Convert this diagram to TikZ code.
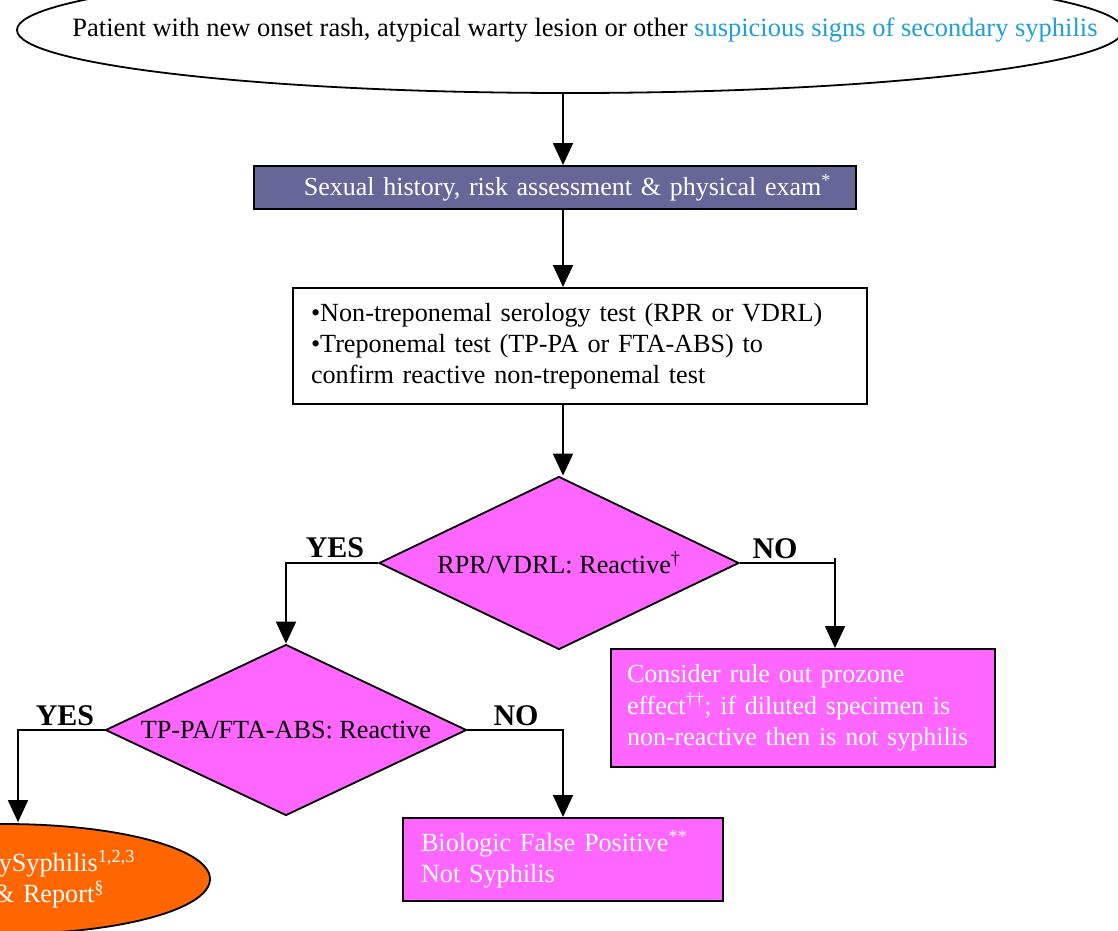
\documentclass[tikz,border=0pt]{standalone}
\usepackage{fontspec}
\setmainfont{Liberation Serif}
\usetikzlibrary{shapes.geometric,arrows.meta}
\definecolor{slate}{HTML}{666699}
\definecolor{pinkfill}{HTML}{FF66FF}
\definecolor{orangefill}{HTML}{FF6600}
\definecolor{linkblue}{RGB}{30,160,210}
\begin{document}
\begin{tikzpicture}[x=1pt,y=-1pt,
  every node/.style={font=\fontsize{26.2}{31}\selectfont},
  arr/.style={line width=1.8pt,-{Triangle[length=22pt,width=20pt]}},
  boxst/.style={draw,line width=2pt,rectangle,inner ysep=0pt},
  decision/.style={diamond,draw,line width=1.8pt,fill=pinkfill,inner sep=0pt,aspect=2.1},
  yn/.style={font=\fontsize{30}{32}\selectfont\bfseries,inner sep=0pt}]
\useasboundingbox[fill=white] (0,0) rectangle (1118,930);
\coordinate (spine) at (563,0);
% top ellipse
\node[ellipse,draw,line width=1.8pt,minimum width=1106pt,minimum height=126pt,inner xsep=-200pt,inner ysep=0pt,
  font=\fontsize{26.5}{31}\selectfont] (start) at (570,30)
  {\hspace*{30pt}Patient with new onset rash, atypical warty lesion or other \textcolor{linkblue}{suspicious signs of secondary syphilis}};
% history box
\node[boxst,fill=slate,text=white,anchor=north west,minimum width=602pt,minimum height=43pt,
  text width=552pt,inner xsep=25pt,align=right,font=\fontsize{26}{31}\selectfont] (history) at (253,165)
  {Sexual history, risk assessment \& physical exam\textsuperscript{*}};
% tests box
\node[boxst,fill=white,anchor=north west,minimum width=574pt,minimum height=116pt,
  text width=538pt,inner xsep=18pt,align=left] (tests) at (292,287)
  {\fontsize{26.2}{31.5}\selectfont •Non-treponemal serology test (RPR or VDRL)\\•Treponemal test (TP-PA or FTA-ABS) to\\confirm reactive non-treponemal test};
% decisions
\node[decision,minimum width=360pt,minimum height=173pt] (d1) at (559,563) {RPR/VDRL: Reactive\textsuperscript{†}};
\node[decision,minimum width=361pt,minimum height=171pt] (d2) at (286,730) {TP-PA/FTA-ABS: Reactive};
% outcome boxes
\node[boxst,fill=pinkfill,text=white,anchor=north west,minimum width=384pt,minimum height=118pt,
  text width=352pt,inner xsep=16pt,align=left] (prozone) at (610,648)
  {\fontsize{26}{32}\selectfont Consider rule out prozone\\effect\textsuperscript{††}; if diluted specimen is\\non-reactive then is not syphilis};
\node[boxst,fill=pinkfill,text=white,anchor=north west,minimum width=320pt,minimum height=83pt,
  text width=284pt,inner xsep=18pt,align=left] (bfp) at (402,817)
  {\fontsize{26.2}{32}\selectfont Biologic False Positive\textsuperscript{**}\\Not Syphilis};
\node[ellipse,draw,line width=1.8pt,fill=orangefill,text=white,minimum width=410pt,minimum height=110pt,
  inner sep=0pt,text width=260pt,align=right] (treat) at (5,879)
  {\fontsize{26.2}{30}\selectfont ySyphilis\textsuperscript{1,2,3}\\\& Report\textsuperscript{§}\hspace*{31pt}};
% labels
\node[yn] (yes1) at (335,548) {YES};
\node[yn] (no1) at (775,549) {NO};
\node[yn] (yes2) at (65,716) {YES};
\node[yn] (no2) at (516,716) {NO};
% connectors
\draw[arr] (start.south -| spine) -- (history.north -| spine);
\draw[arr] (history.south -| spine) -- (tests.north -| spine);
\draw[arr] (tests.south -| spine) -- (d1.north -| spine);
\draw[arr] (d1.west) -| (d2.north);
\draw[arr] (d1.east) -| ([xshift=32pt]prozone.north);
\draw[line width=1.8pt] ([xshift=32pt]prozone.north |- d1.east) -- ++(0,-5);
\draw[arr] (d2.west) -| ([xshift=13pt,yshift=1pt]treat.north);
\draw[arr] (d2.east) -| (bfp.north -| spine);
\end{tikzpicture}
\end{document}
